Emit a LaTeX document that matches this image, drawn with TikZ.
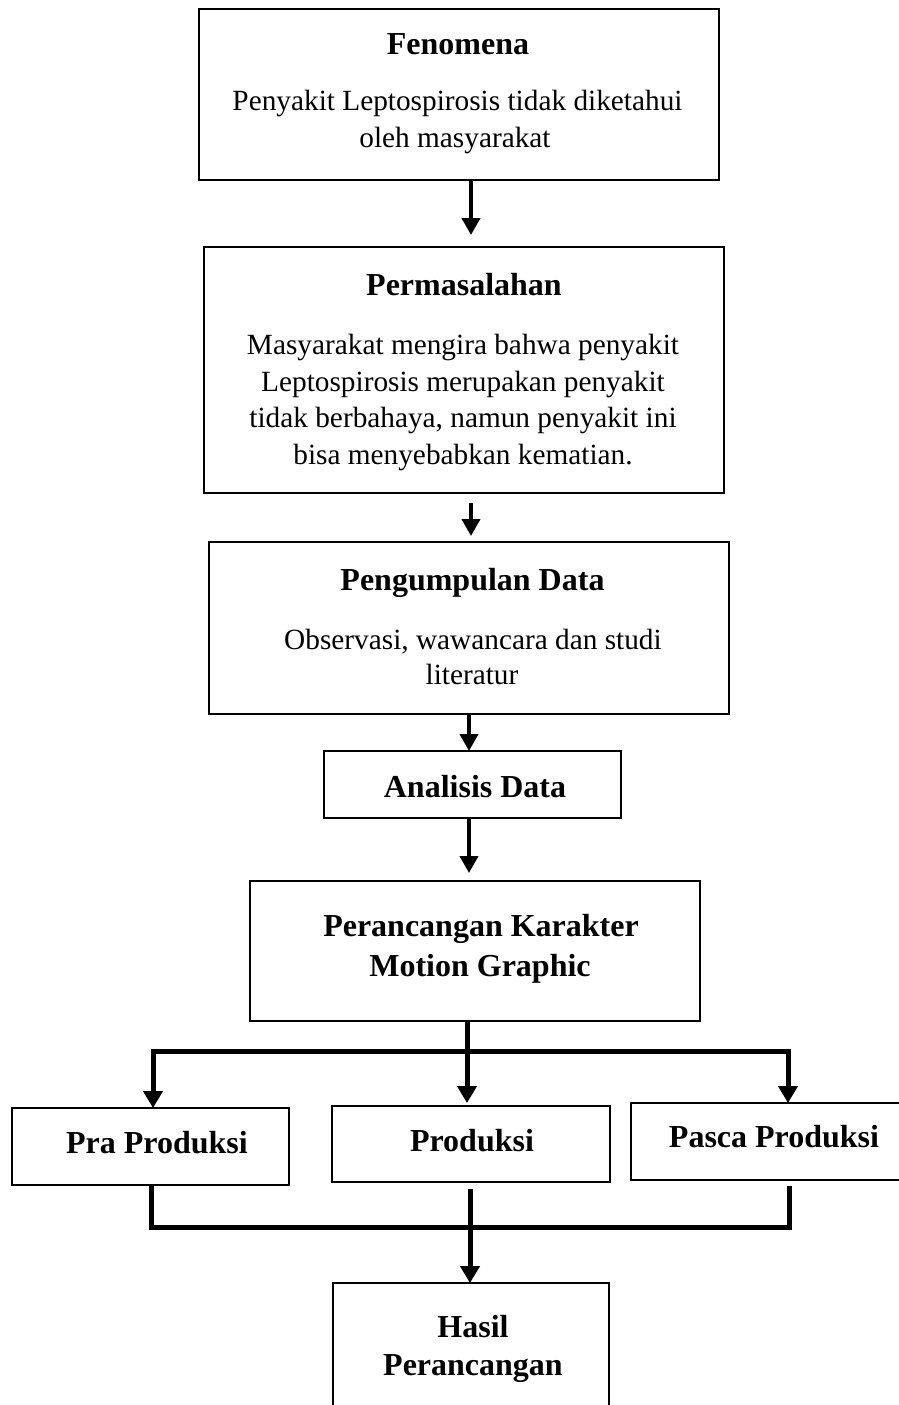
\documentclass[tikz,border=0pt]{standalone}
\usepackage{fontspec}
\setmainfont{Liberation Serif}
\usetikzlibrary{arrows.meta}
\begin{document}
\begin{tikzpicture}[x=0.5pt,y=-0.5pt,
  box/.style={draw=black,line width=1.1pt,inner sep=0pt,outer sep=0pt,fill=white},
  ttl/.style={font=\fontsize{16}{19}\selectfont\bfseries,anchor=base,inner sep=0pt},
  bdy/.style={font=\fontsize{14.65}{18}\selectfont,anchor=base,inner sep=0pt},
  arr/.style={line width=2pt,-{Triangle[length=8.5pt,width=9pt]}},
  bline/.style={line width=2.5pt},
  barr/.style={line width=2.5pt,-{Triangle[length=8.5pt,width=9.5pt]}}]
\useasboundingbox (0,0) rectangle (899,1405);
\clip (0,0) rectangle (899,1405);
% boxes
\node[box,minimum width=260pt,minimum height=85.5pt] (b1) at (459,94.5) {};
\node[box,minimum width=260pt,minimum height=123pt] (b2) at (464,370) {};
\node[box,minimum width=260pt,minimum height=86pt] (b3) at (469,628) {};
\node[box,minimum width=148.5pt,minimum height=33.5pt] (b4) at (472.5,784.5) {};
\node[box,minimum width=225pt,minimum height=70pt] (b5) at (475,951) {};
\node[box,minimum width=138.5pt,minimum height=38.5pt] (pra) at (150.5,1146.5) {};
\node[box,minimum width=139pt,minimum height=38pt] (prod) at (471,1144) {};
\node[box,minimum width=143pt,minimum height=38.5pt] (pasca) at (774,1141.5) {};
\node[box,minimum width=138pt,minimum height=73.5pt] (hasil) at (471,1356.5) {};
% texts
\node[ttl] (t1) at (458,54) {Fenomena};
\node[bdy] (t1a) at (457.5,110) {Penyakit Leptospirosis tidak diketahui};
\node[bdy] (t1b) at (455,147) {oleh masyarakat};
\node[ttl] (t2) at (464,295) {Permasalahan};
\node[bdy] (t2a) at (463,354) {Masyarakat mengira bahwa penyakit};
\node[bdy] (t2b) at (463,391) {Leptospirosis merupakan penyakit};
\node[bdy] (t2c) at (463,427) {tidak berbahaya, namun penyakit ini};
\node[bdy] (t2d) at (463,464) {bisa menyebabkan kematian.};
\node[ttl] (t3) at (472.5,590) {Pengumpulan Data};
\node[bdy] (t3a) at (473,649) {Observasi, wawancara dan studi};
\node[bdy] (t3b) at (472,684) {literatur};
\node[ttl] (t4) at (475,797) {Analisis Data};
\node[ttl] (t5a) at (481,936) {Perancangan Karakter};
\node[ttl] (t5b) at (480,976) {Motion Graphic};
\node[ttl] (t6) at (157,1153) {Pra Produksi};
\node[ttl] (t7) at (472,1151) {Produksi};
\node[ttl] (t8) at (774,1147) {Pasca Produksi};
\node[ttl] (t9a) at (473,1337) {Hasil};
\node[ttl] (t9b) at (473,1375) {Perancangan};
% main arrows
\draw[arr] ([xshift=6pt]b1.south) -- ([xshift=3.5pt,yshift=6pt]b2.north);
\draw[arr] ([xshift=3.5pt,yshift=-5pt]b2.south) -- ([xshift=1pt,yshift=3pt]b3.north);
\draw[arr] (b3.south) -- ([xshift=-1.75pt]b4.north);
\draw[arr] ([xshift=-1.75pt]b4.south) -- ([xshift=-3pt,yshift=4pt]b5.north);
% branching
\coordinate (sL) at (153,1051);
\coordinate (sM) at (467,1051);
\coordinate (sR) at (788,1051);
\draw[bline] (b5.south -| sM) -- (sM);
\draw[bline,line cap=rect] (sL) -- (sR);
\draw[barr] (sL) -- (pra.north -| sL);
\draw[barr,shorten >=1.5pt] (sM) -- (prod.north -| sM);
\draw[barr] (sR) -- (pasca.north -| sR);
% merging
\coordinate (jL) at (151,1227);
\coordinate (jM) at (470,1227);
\coordinate (jR) at (789,1227);
\draw[bline,line join=miter,shorten >=3pt] (pra.south -| jL) -- (jL) -- (jR) -- (pasca.south -| jR);
\draw[barr,shorten <=3.5pt] (prod.south -| jM) -- (hasil.north -| jM);
\end{tikzpicture}
\end{document}
